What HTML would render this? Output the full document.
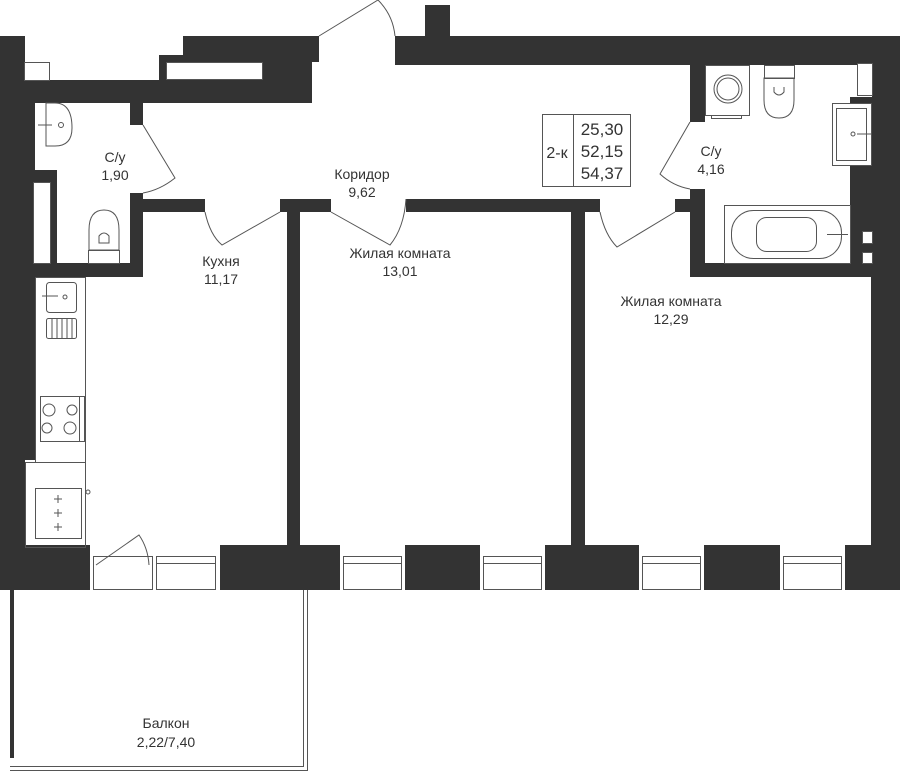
<!DOCTYPE html>
<html><head><meta charset="utf-8"><style>
html,body{margin:0;padding:0;background:#fff;}
svg{display:block;}
text{font-family:"Liberation Sans",sans-serif;fill:#333;font-size:14px;text-anchor:middle;}
</style></head><body>
<svg width="900" height="774" viewBox="0 0 900 774" xmlns="http://www.w3.org/2000/svg">
<g fill="#333">
<rect x="0" y="36" width="25" height="70"/>
<rect x="0" y="80" width="312" height="23"/>
<rect x="183" y="36" width="136" height="26"/>
<rect x="159" y="55" width="160" height="7"/>
<rect x="159" y="55" width="7" height="25"/>
<rect x="262" y="55" width="50" height="25"/>
<rect x="0" y="103" width="35" height="80"/>
<rect x="0" y="170" width="57" height="12"/>
<rect x="0" y="182" width="33" height="95"/>
<rect x="50" y="182" width="7" height="95"/>
<rect x="0" y="263" width="143" height="14"/>
<rect x="0" y="277" width="35" height="183"/>
<rect x="0" y="460" width="25" height="90"/>
<rect x="130" y="103" width="13" height="22"/>
<rect x="130" y="193" width="13" height="84"/>
<rect x="143" y="199" width="62" height="13"/>
<rect x="280" y="199" width="51" height="13"/>
<rect x="287" y="199" width="13" height="350"/>
<rect x="406" y="199" width="194" height="13"/>
<rect x="571" y="199" width="14" height="350"/>
<rect x="395" y="36" width="505" height="29"/>
<rect x="425" y="5" width="25" height="31"/>
<rect x="872" y="65" width="28" height="35"/>
<rect x="850" y="97" width="50" height="180"/>
<rect x="871" y="270" width="29" height="280"/>
<rect x="690" y="65" width="15" height="57"/>
<rect x="690" y="189" width="15" height="88"/>
<rect x="675" y="199" width="15" height="13"/>
<rect x="690" y="263" width="181" height="14"/>
<rect x="0" y="545" width="900" height="45"/>
<rect x="10" y="590" width="4" height="168"/>
</g>
<g fill="#fff" stroke="#555" stroke-width="1">
<rect x="24.5" y="62.5" width="25" height="18"/>
<rect x="166.5" y="62.5" width="96" height="17"/>
<rect x="33.5" y="182.5" width="17" height="81"/>
<rect x="857.5" y="63.5" width="15" height="32"/>
<rect x="862.5" y="231.5" width="10" height="12"/>
<rect x="862.5" y="252.5" width="10" height="11"/>
<rect x="832.5" y="103.5" width="39" height="62"/>
</g>
<g fill="#fff" stroke="#555" stroke-width="1">
<rect x="90" y="545" width="130" height="45" stroke="none"/>
<rect x="340" y="545" width="65" height="45" stroke="none"/>
<rect x="480" y="545" width="65" height="45" stroke="none"/>
<rect x="639" y="545" width="65" height="45" stroke="none"/>
<rect x="780" y="545" width="65" height="45" stroke="none"/>
<rect x="93.5" y="556.5" width="59" height="33"/>
<rect x="156.5" y="556.5" width="59" height="33"/>
<rect x="343.5" y="556.5" width="58" height="33"/>
<rect x="483.5" y="556.5" width="58" height="33"/>
<rect x="642.5" y="556.5" width="58" height="33"/>
<rect x="783.5" y="556.5" width="58" height="33"/>
</g>
<g stroke="#555" stroke-width="1" fill="none">
<line x1="157" y1="563.5" x2="215" y2="563.5"/><line x1="344" y1="563.5" x2="401" y2="563.5"/>
<line x1="484" y1="563.5" x2="541" y2="563.5"/><line x1="643" y1="563.5" x2="700" y2="563.5"/>
<line x1="784" y1="563.5" x2="841" y2="563.5"/>
<path d="M96 565 L139 535 Q148 548 149 565"/>
<path d="M10 766.5 H303.5 V590 M10 770.5 H307.5 V590"/>
<path d="M319 36 L378 0 Q393 15 395 36"/>
<path d="M143 125 L175 178 Q160 190 143 193"/>
<path d="M205 212 Q210 235 222 245 L280 212"/>
<path d="M331 212 L390 245 Q404 228 406 199"/>
<path d="M600 212 Q605 235 617 247 L675 212"/>
<path d="M690 122 L660 174 Q673 186 690 189"/>
<rect x="542.5" y="114.5" width="88" height="72"/>
<line x1="573.5" y1="114" x2="573.5" y2="186"/>
<path d="M46 103 H55 Q72 103 72 128 Q72 146 55 146 H46 Z"/>
<circle cx="61" cy="125" r="2.5"/>
<line x1="38" y1="125" x2="52" y2="125"/>
<rect x="88.5" y="250.5" width="31" height="13"/>
<path d="M89 250 V230 Q89 210 104 210 Q119 210 119 230 V250 Z"/>
<path d="M99 243 V236 Q104 230 109 236 V243 Z"/>
<rect x="35.5" y="277.5" width="50" height="185"/>
<rect x="25.5" y="462.5" width="60" height="85"/>
<rect x="46.5" y="282.5" width="30" height="30" rx="3"/>
<circle cx="65" cy="297" r="2"/>
<line x1="42" y1="296" x2="58" y2="296"/>
<rect x="46.5" y="318.5" width="30" height="20" rx="2"/>
<path d="M52 319 V338 M57 319 V338 M62 319 V338 M67 319 V338 M72 319 V338"/>
<rect x="40.5" y="396.5" width="44" height="45"/>
<line x1="79.5" y1="397" x2="79.5" y2="441"/>
<circle cx="49" cy="410" r="6"/><circle cx="72" cy="410" r="5"/>
<circle cx="47" cy="428" r="5"/><circle cx="70" cy="428" r="6"/>
<rect x="35.5" y="488.5" width="46" height="50"/>
<path d="M54 499 h8 M58 495 v8 M54 513 h8 M58 509 v8 M54 527 h8 M58 523 v8"/>
<circle cx="88" cy="492" r="2"/>
<rect x="705.5" y="65.5" width="44" height="50"/>
<rect x="711.5" y="115.5" width="30" height="3"/>
<circle cx="728" cy="89" r="14"/><circle cx="728" cy="89" r="11"/>
<rect x="764.5" y="65.5" width="30" height="13"/>
<path d="M764 78 V100 Q764 118 779 118 Q794 118 794 100 V78 Z"/>
<path d="M774 87 V92 Q779 98 784 92 V87"/>
<rect x="836.5" y="108.5" width="30" height="52"/>
<circle cx="853" cy="134" r="2"/><line x1="857" y1="134" x2="871" y2="134"/>
<rect x="724.5" y="205.5" width="126" height="58"/>
<rect x="731.5" y="210.5" width="110" height="48" rx="22"/>
<rect x="756.5" y="217.5" width="60" height="34" rx="10"/>
<line x1="827" y1="234.5" x2="848" y2="234.5"/>
</g>
<text x="115" y="162">С/у</text><text x="115" y="180">1,90</text>
<text x="362" y="179">Коридор</text><text x="362" y="197">9,62</text>
<text x="221" y="266">Кухня</text><text x="221" y="284">11,17</text>
<text x="400" y="258">Жилая комната</text><text x="400" y="276">13,01</text>
<text x="671" y="306">Жилая комната</text><text x="671" y="324">12,29</text>
<text x="711" y="156">С/у</text><text x="711" y="174">4,16</text>
<text x="166" y="728">Балкон</text><text x="166" y="747">2,22/7,40</text>
<text x="557" y="158" style="font-size:16px">2-к</text>
<text x="602" y="135" style="font-size:17px">25,30</text>
<text x="602" y="157" style="font-size:17px">52,15</text>
<text x="602" y="179" style="font-size:17px">54,37</text>
</svg>
</body></html>
